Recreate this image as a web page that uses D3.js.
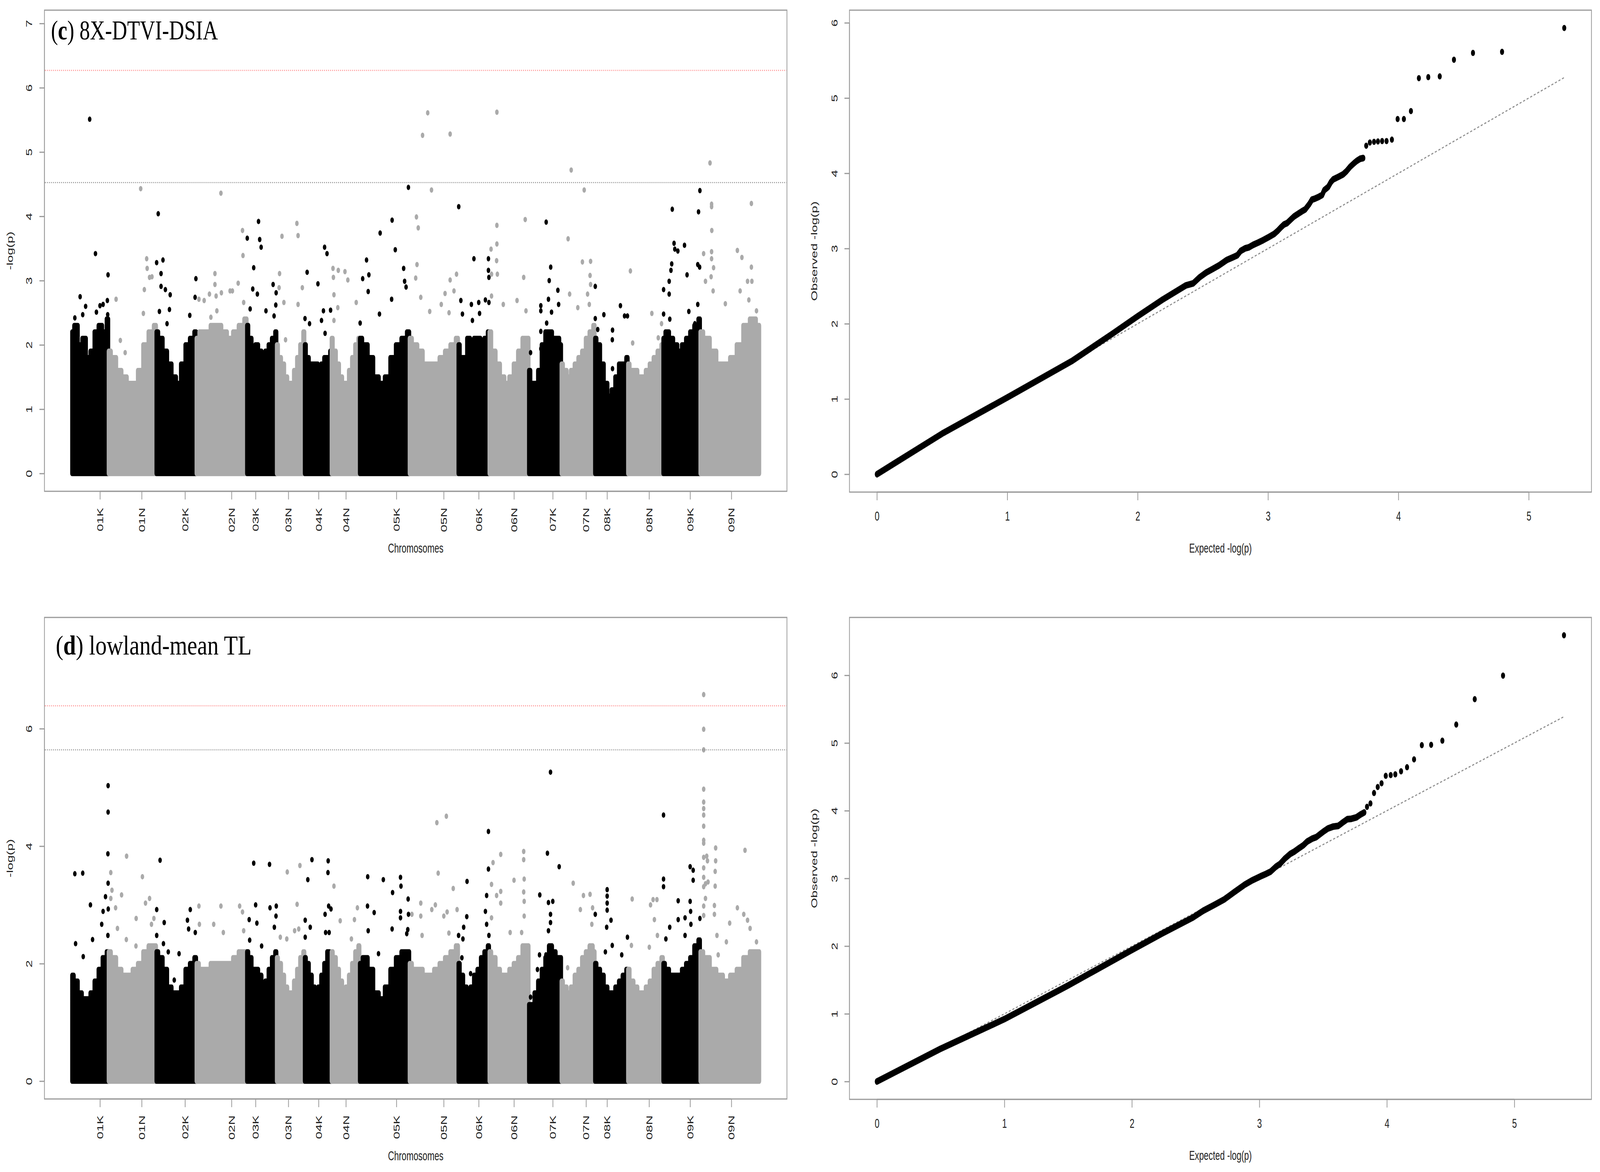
<!DOCTYPE html>
<html>
<head>
<meta charset="utf-8">
<script src="https://cdn.jsdelivr.net/npm/d3@7"></script>
<style>
  html, body { margin: 0; padding: 0; width: 100%; height: 100%; background: #fff; overflow: hidden; }
  #chart { width: 100vw; height: 100vh; }
  #chart svg { display: block; width: 100vw; height: 100vh; }
</style>
</head>
<body>
<div id="chart"></div>
<script>
// ---- chromosomes (positions in a common genome unit, 0..1000) ----
const chromNames = ["01K","01N","02K","02N","03K","03N","04K","04N","05K","05N","06K","06N","07K","07N","08K","08N","09K","09N"];
const chromStart = [0, 53.1, 122.6, 180.9, 254.4, 297.7, 338.4, 377.4, 418.5, 490.9, 561.9, 607.0, 664.5, 711.8, 760.6, 808.6, 859.9, 913.8];
const chromEnd   = [53.1, 122.6, 180.9, 254.4, 297.7, 338.4, 377.4, 418.5, 490.9, 561.9, 607.0, 664.5, 711.8, 760.6, 808.6, 859.9, 913.8, 1000];
const chromTicks = [40.8, 101.5, 164.5, 232.2, 267.1, 314.8, 358.8, 398.5, 472.0, 540.8, 591.7, 643.0, 699.4, 747.8, 778.4, 839.5, 899.2, 959.2];

// top of the dense SNP cloud, sampled evenly along each chromosome
const envC = [
  [2.2, 2.3, 2.0, 2.1, 1.8, 1.9, 2.2, 2.3, 2.2, 2.4],
  [1.9, 1.8, 1.6, 1.5, 1.4, 1.4, 1.6, 2.0, 2.2, 2.3],
  [2.2, 2.1, 1.9, 1.7, 1.5, 1.4, 1.7, 2.0, 2.1, 2.2],
  [2.1, 2.2, 2.2, 2.3, 2.3, 2.2, 2.1, 2.2, 2.3, 2.4],
  [2.3, 2.1, 1.9, 2.0, 1.9, 1.8, 1.9, 2.0, 2.1, 2.2],
  [2.0, 1.8, 1.7, 1.5, 1.4, 1.4, 1.6, 1.8, 2.0, 2.2],
  [2.0, 1.8, 1.7, 1.7, 1.7, 1.6, 1.7, 1.8, 1.8, 1.9],
  [2.1, 1.9, 1.7, 1.5, 1.4, 1.4, 1.6, 1.8, 2.0, 2.1],
  [2.1, 2.0, 1.8, 1.5, 1.4, 1.5, 1.8, 2.0, 2.1, 2.2],
  [2.1, 2.0, 1.9, 1.7, 1.7, 1.7, 1.8, 1.9, 2.0, 2.1],
  [2.0, 1.8, 1.8, 2.1, 2.0, 2.1, 2.1, 2.0, 2.1, 2.2],
  [2.2, 1.9, 1.7, 1.5, 1.4, 1.5, 1.7, 1.9, 2.1, 2.1],
  [1.6, 1.4, 1.4, 1.6, 2.0, 2.2, 2.2, 2.1, 2.1, 2.0],
  [1.7, 1.6, 1.5, 1.6, 1.7, 1.8, 1.9, 2.1, 2.2, 2.3],
  [2.1, 2.0, 1.7, 1.4, 1.2, 1.3, 1.5, 1.7, 1.7, 1.8],
  [1.7, 1.6, 1.6, 1.5, 1.5, 1.6, 1.7, 1.8, 1.9, 2.0],
  [2.1, 2.2, 2.1, 2.0, 1.9, 2.0, 2.1, 2.2, 2.3, 2.4],
  [2.2, 2.1, 1.9, 1.7, 1.7, 1.8, 2.0, 2.3, 2.4, 2.3]
];
const envD = [
  [1.8, 1.7, 1.5, 1.4, 1.4, 1.5, 1.7, 1.9, 2.1, 2.2],
  [2.2, 2.1, 1.9, 1.8, 1.8, 1.9, 2.0, 2.2, 2.3, 2.3],
  [2.2, 2.1, 1.9, 1.6, 1.5, 1.5, 1.6, 1.9, 2.0, 2.1],
  [2.0, 1.9, 1.9, 2.0, 2.0, 2.0, 2.0, 2.1, 2.2, 2.2],
  [2.2, 2.1, 1.9, 1.9, 1.8, 1.6, 1.7, 1.9, 2.1, 2.2],
  [2.1, 2.0, 1.8, 1.6, 1.5, 1.5, 1.7, 1.9, 2.1, 2.2],
  [2.1, 2.0, 1.8, 1.6, 1.5, 1.6, 1.8, 2.0, 2.2, 2.1],
  [2.2, 2.1, 1.9, 1.7, 1.5, 1.6, 1.8, 2.0, 2.2, 2.3],
  [2.0, 2.1, 1.9, 1.5, 1.4, 1.6, 1.9, 2.1, 2.2, 2.2],
  [2.0, 1.9, 1.9, 1.8, 1.8, 1.9, 2.0, 2.1, 2.2, 2.3],
  [2.0, 1.8, 1.6, 1.5, 1.6, 1.8, 1.9, 2.1, 2.2, 2.3],
  [2.2, 2.1, 1.9, 1.8, 1.8, 1.9, 2.0, 2.1, 2.3, 2.3],
  [1.3, 1.3, 1.5, 1.7, 1.9, 2.1, 2.3, 2.2, 2.1, 2.1],
  [1.7, 1.6, 1.5, 1.6, 1.8, 1.9, 2.1, 2.2, 2.3, 2.2],
  [2.0, 1.9, 1.8, 1.6, 1.5, 1.5, 1.6, 1.7, 1.8, 1.9],
  [1.9, 1.7, 1.6, 1.5, 1.5, 1.6, 1.7, 1.9, 2.0, 2.1],
  [2.0, 1.9, 1.8, 1.8, 1.8, 1.9, 2.0, 2.1, 2.3, 2.4],
  [2.2, 2.1, 1.9, 1.8, 1.7, 1.8, 1.9, 2.1, 2.2, 2.2]
];

// single SNPs standing above the cloud: [position, -log(p)]
const dotsC = [
  [4.2,2.42],[11.9,2.75],[15.7,2.47],[19.9,2.6],[25.8,5.51],[34.2,3.42],[35.6,2.51],[40.8,2.61],[45.3,2.63],[51.5,2.69],[52.5,3.09],[52.0,2.47],
  [64.2,2.71],[70.4,2.07],[77.4,1.88],[100.0,4.43],[108.7,3.34],[109.4,3.19],[112.9,3.05],[116.4,3.06],[105.3,2.86],[103.9,2.49],
  [123.2,3.28],[125.5,4.04],[129.6,3.11],[132.4,3.32],[129.6,2.91],[135.9,2.86],[142.9,2.78],[141.8,2.55],[127.2,2.52],[138.3,2.33],[171.4,2.46],[179.1,2.74],[180.3,3.03],
  [184.7,2.71],[192.3,2.69],[200.0,2.79],[208.0,3.11],[208.0,2.94],[209.7,2.76],[216.7,4.36],[217.4,2.81],[230.0,2.84],[233.4,2.84],[241.8,2.96],[248.1,3.78],[248.8,3.39],[249.8,2.66],[210.8,2.53],[202.1,2.43],
  [255.0,3.66],[259.2,2.56],[263.0,2.87],[264.4,3.2],[269.7,2.79],[271.4,3.92],[273.1,3.64],[275.2,3.52],[282.2,2.53],[292.6,2.94],[297.0,2.81],[296.5,2.62],[294.0,2.45],
  [302.0,3.11],[301.3,2.89],[305.5,3.69],[308.3,2.66],[327.2,3.89],[328.9,3.7],[328.9,2.63],[335.1,2.89],[310.7,2.08],
  [342.1,3.13],[339.0,2.41],[345.6,2.33],[357.8,2.95],[365.8,2.53],[367.5,3.52],[371.0,3.42],[363.0,2.38],[368.2,2.18],[376.2,2.54],
  [379.7,3.19],[380.3,3.05],[381.1,2.78],[387.4,3.16],[397.1,3.14],[401.3,3.01],[381.1,2.38],[413.5,2.66],[386.7,2.58],
  [428.5,3.32],[422.9,3.03],[431.9,3.09],[430.9,2.83],[419.2,2.34],[448.3,3.74],[465.7,3.94],[470.3,3.48],[447.3,2.48],[465.0,2.71],[482.5,3.19],[483.9,2.99],[489.4,4.45],[486.0,2.9],
  [510.0,5.26],[517.5,5.61],[550.1,5.28],[523.0,4.41],[501.1,3.99],[503.7,3.82],[501.9,3.25],[500.0,3.04],[507.4,2.74],[520.4,2.52],[537.2,2.63],[542.7,2.8],[550.1,3.01],[555.7,2.84],[559.4,3.1],[548.5,2.5],
  [562.6,4.15],[565.7,2.69],[568.0,2.48],[584.7,3.34],[581.0,2.63],[591.7,2.66],[582.5,2.38],[592.9,2.49],[601.4,2.7],[605.8,3.34],[605.8,3.16],[606.5,3.05],[606.5,2.66],
  [618.1,5.62],[618.1,3.86],[618.1,3.57],[617.7,3.31],[609.6,3.49],[610.3,3.1],[618.8,3.1],[610.3,2.76],[627.4,2.63],[647.4,2.69],[657.1,3.05],[659.3,3.95],[660.4,2.53],
  [667.1,1.88],[670.4,1.12],[682.0,2.61],[682.0,2.53],[682.0,2.21],[682.0,1.94],[689.8,3.91],[696.4,3.21],[694.2,3.0],[693.1,2.71],[697.6,2.51],[706.8,2.85],[707.9,2.63],[690.5,2.34],
  [726.2,4.72],[745.1,4.41],[721.7,3.65],[723.9,2.79],[735.8,2.58],[742.5,3.29],[754.4,3.30],[753.6,3.08],[754.4,2.94],[752.5,2.63],[750.0,2.79],
  [761.2,2.91],[761.2,2.41],[773.7,2.47],[764.8,2.24],[786.3,2.23],[786.0,2.08],[797.8,2.61],[803.8,2.45],[808.0,2.45],[786.3,1.63],[786.3,0.98],
  [812.3,3.15],[843.5,2.49],[815.6,2.03],[852.8,2.11],[857.6,2.33],
  [860.6,2.86],[860.6,2.48],[868.7,2.79],[868.7,2.99],[871.3,3.16],[872.4,3.26],[873.2,4.11],[875.8,3.58],[876.9,3.49],[881.3,3.46],[891.0,3.55],[894.7,3.09],[897.3,2.52],[910.3,2.63],[910.3,3.25],[913.0,3.21],[911.4,4.07],[913.4,4.40],[869.6,2.4],[906.0,2.33],
  [928.1,4.83],[930.4,4.19],[930.4,4.15],[930.7,3.78],[930.4,3.45],[930.4,3.34],[933.3,3.2],[929.7,3.06],[921.5,2.99],[918.8,3.42],[932.6,2.84],[950.4,2.64],[967.9,3.47],[974.5,3.36],[988.3,4.2],[988.3,3.21],[982.7,2.99],[989.0,2.99],[971.9,2.84],[984.6,2.7],[995.7,2.53]
];
const dotsD = [
  [4.2,3.53],[15.7,3.54],[26.9,3.0],[30.0,2.41],[5.3,2.34],[16.4,2.12],[45.3,2.89],[43.3,2.67],[48.8,3.14],[52.6,3.37],[52.6,5.03],[52.6,4.58],[52.3,3.87],[52.8,2.93],[52.3,2.48],
  [56.5,3.55],[58.2,3.25],[56.5,3.11],[72.2,3.17],[63.5,2.95],[66.2,2.6],[79.5,3.83],[93.4,2.77],[102.5,3.48],[107.0,3.03],[112.9,3.11],[115.7,2.67],[119.2,2.77],[79.1,2.41],[93.1,2.3],
  [123.3,2.92],[128.2,3.76],[134.2,2.7],[123.3,2.48],[133.1,2.34],[140.1,2.2],[148.8,1.72],[155.8,2.17],[168.0,2.74],[169.7,2.59],[172.1,2.92],[179.4,2.53],
  [184.7,2.98],[185.4,2.67],[216.7,2.98],[243.9,2.98],[248.1,2.88],[206.2,2.67],[220.2,2.53],[249.8,2.56],
  [264.4,3.71],[287.4,3.69],[267.2,3.0],[257.8,2.75],[269.0,2.69],[288.1,2.95],[297.2,2.98],[296.8,2.81],[294.4,2.62],[275.9,2.3],[258.5,2.4],
  [313.2,3.56],[331.6,3.67],[327.5,3.01],[323.9,2.56],[329.9,2.59],[312.5,2.42],[303.1,2.45],
  [349.1,3.77],[343.1,3.43],[372.7,3.75],[372.4,3.55],[339.3,2.74],[346.6,2.62],[339.3,2.45],[368.2,2.84],[373.4,2.98],[376.8,2.93],[374.1,2.53],[369.0,2.53],
  [381.1,3.32],[390.2,2.73],[415.2,2.95],[410.9,2.75],[406.5,2.42],
  [430.2,3.48],[452.9,3.43],[477.9,3.47],[478.6,3.32],[466.4,3.21],[429.9,2.98],[439.6,2.87],[489.0,3.1],[477.9,2.89],[477.9,2.78],[430.9,2.56],[465.7,2.59],[445.9,2.17],[489.5,2.84],[488.5,2.58],[487.0,2.51],
  [530.8,4.40],[544.6,4.51],[532.7,3.54],[554.6,3.28],[560.2,2.92],[507.4,3.03],[507.4,2.81],[523.4,2.92],[528.6,3.0],[540.9,2.81],[545.7,2.88],[494.5,2.84],[548.3,2.52],[509.3,2.48],
  [574.7,3.40],[605.8,4.25],[605.8,3.61],[603.2,3.16],[601.4,2.89],[603.2,2.67],[606.5,2.48],[574.3,2.8],[569.8,2.62],[568.7,2.42],[562.4,2.48],[567.2,2.1],[579.9,1.83],
  [623.7,3.86],[612.5,3.72],[610.3,3.35],[623.7,3.23],[623.7,3.03],[617.7,3.16],[643.0,3.42],[657.1,3.91],[657.1,3.77],[657.8,3.44],[657.1,3.22],[657.8,3.06],[657.8,2.81],[654.1,2.53],[610.3,2.78],[637.4,2.53],
  [696.1,5.26],[691.6,3.88],[708.7,3.65],[680.5,3.17],[693.1,3.04],[699.4,3.06],[696.1,2.84],[696.1,2.7],[693.1,2.56],[680.1,2.15],[689.4,2.15],[667.1,1.43],[677.1,1.9],
  [729.1,3.37],[744.0,3.16],[753.6,3.18],[739.5,2.92],[757.3,2.95],[756.2,2.67],[721.0,1.93],
  [778.5,3.26],[778.5,3.15],[778.5,3.03],[778.5,2.91],[784.1,2.74],[777.8,2.62],[761.2,2.84],[808.0,2.45],[799.7,2.15],[785.9,2.31],[775.9,2.2],
  [814.9,3.1],[850.9,3.09],[845.3,3.09],[841.6,3.0],[847.2,2.75],[851.6,2.48],[839.8,2.28],[813.8,2.31],
  [860.5,4.53],[860.5,3.44],[860.5,3.31],[881.8,3.07],[881.8,2.75],[869.5,2.62],[899.2,3.65],[903.6,3.59],[903.6,3.42],[899.2,3.06],[899.9,2.89],[891.8,2.78],[913.4,2.77],[900.3,2.67],[863.9,2.42],[891.8,2.48],
  [918.9,6.58],[918.9,5.99],[918.9,5.64],[918.9,4.97],[918.9,4.75],[918.9,4.64],[918.9,4.53],[918.9,4.34],[918.9,4.1],[918.9,4.05],[918.9,3.81],[918.9,3.63],[918.9,3.47],[918.9,3.31],[918.9,2.98],[918.9,2.82],
  [936.3,3.97],[936.3,3.75],[935.6,3.57],[935.6,3.32],[923.3,3.83],[924.4,3.75],[921.5,3.36],[925.2,3.39],[934.5,2.99],[934.5,2.84],[921.5,3.11],[979.0,3.93],[967.9,2.95],[956.7,2.69],[977.2,2.84],[982.7,2.74],[986.4,2.6],[995.7,2.37],[938.2,2.48],[951.9,2.37],[940.0,2.15]
];

const threshC = [6.27, 4.525];   // red, grey
const threshD = [6.39, 5.64];
const ylimC = [0, 6.93];
const ylimD = [0, 7.59];
const yTicksC = [0, 1, 2, 3, 4, 5, 6, 7];
const yTicksD = [0, 2, 4, 6];

// ---- QQ plots: [expected, observed] ----
const qqCLine = [[0,0],[0.5,0.54],[1.0,1.02],[1.5,1.51],[1.8,1.86],[2.0,2.1],[2.19,2.32],[2.37,2.51],[2.425,2.536],[2.475,2.617],[2.525,2.68],[2.575,2.728],[2.624,2.776],[2.684,2.848],[2.734,2.886],[2.764,2.91],[2.79,2.968],[2.824,3.002],[2.853,3.016],[2.887,3.05],[2.923,3.078],[2.963,3.112],[3.003,3.15],[3.047,3.194],[3.072,3.232],[3.098,3.28],[3.122,3.319],[3.146,3.338],[3.178,3.391],[3.198,3.424],[3.232,3.463],[3.261,3.496],[3.285,3.52],[3.317,3.592],[3.337,3.65],[3.361,3.664],[3.391,3.688],[3.415,3.712],[3.431,3.775],[3.461,3.818],[3.481,3.88],[3.5,3.919],[3.54,3.953],[3.576,3.986],[3.6,4.025],[3.63,4.087],[3.66,4.135],[3.68,4.164],[3.706,4.193],[3.73,4.202]];
const qqCTail = [[3.753,4.366],[3.781,4.409],[3.813,4.418],[3.843,4.423],[3.875,4.428],[3.909,4.428],[3.95,4.447],[3.994,4.721],[4.042,4.721],[4.096,4.827],[4.157,5.264],[4.229,5.278],[4.317,5.288],[4.426,5.509],[4.572,5.6],[4.795,5.614],[5.272,5.931]];
const qqDLine = [[0,0],[0.495,0.48],[1.0,0.922],[1.5,1.419],[2.0,1.943],[2.24,2.19],[2.479,2.423],[2.56,2.523],[2.642,2.605],[2.723,2.688],[2.804,2.799],[2.886,2.909],[2.947,2.975],[3.008,3.03],[3.049,3.064],[3.089,3.102],[3.13,3.174],[3.161,3.213],[3.201,3.295],[3.242,3.362],[3.273,3.395],[3.309,3.444],[3.344,3.489],[3.374,3.544],[3.415,3.588],[3.446,3.61],[3.476,3.654],[3.507,3.698],[3.537,3.737],[3.578,3.765],[3.619,3.776],[3.649,3.82],[3.69,3.875],[3.72,3.88],[3.761,3.902],[3.791,3.941],[3.822,3.974]];
const qqDTail = [[3.844,4.057],[3.871,4.107],[3.899,4.261],[3.928,4.35],[3.958,4.405],[3.991,4.515],[4.03,4.526],[4.066,4.537],[4.111,4.582],[4.158,4.642],[4.213,4.758],[4.274,4.968],[4.347,4.973],[4.435,5.034],[4.544,5.272],[4.689,5.647],[4.911,5.995],[5.389,6.591]];
const qqTicks = [0, 1, 2, 3, 4, 5];
const qqYTicks = [0, 1, 2, 3, 4, 5, 6];

// ---- drawing ----
const AXIS = "#9a9a9a";
const TEXT = "#222";
const SANS = "'Liberation Sans', Arial, sans-serif";
const DOT_R = 7;

// the figure is laid out on a 6372 x 3001 board and stretched to fill the window
const svg = d3.select("#chart").append("svg")
    .attr("viewBox", "0 0 6372 3001")
    .attr("preserveAspectRatio", "none")
    .style("background", "#fff");

// R pads axis limits by 4% on each side
function rPad(lim) {
    const p = (lim[1] - lim[0]) * 0.04;
    return [lim[0] - p, lim[1] + p];
}

function frame(box) {
    svg.append("rect")
        .attr("x", box.left).attr("y", box.top)
        .attr("width", box.right - box.left).attr("height", box.bottom - box.top)
        .attr("fill", "none").attr("stroke", AXIS).attr("stroke-width", 3);
}

function leftAxis(box, y, ticks, labelOffset) {
    const ax = svg.append("g")
        .attr("transform", `translate(${box.left},0)`)
        .call(d3.axisLeft(y).tickValues(ticks).tickSize(20).tickFormat(d3.format("d")));
    ax.select(".domain").remove();
    ax.append("line")
        .attr("y1", y(ticks[0])).attr("y2", y(ticks[ticks.length - 1]))
        .attr("stroke", AXIS).attr("stroke-width", 3);
    ax.selectAll(".tick line").attr("stroke", AXIS).attr("stroke-width", 3);
    ax.selectAll(".tick text")
        .attr("x", 0).attr("y", -labelOffset).attr("dy", null)
        .attr("transform", "rotate(-90)")
        .attr("text-anchor", "middle")
        .attr("dominant-baseline", "central")
        .attr("fill", TEXT)
        .style("font-family", SANS).style("font-size", "34px");
}

function bottomAxis(box, x, ticks, fmt, rotated) {
    const ax = svg.append("g")
        .attr("transform", `translate(0,${box.bottom})`)
        .call(d3.axisBottom(x).tickValues(ticks).tickSize(21).tickFormat(fmt));
    ax.select(".domain").remove();
    ax.append("line")
        .attr("x1", x(ticks[0])).attr("x2", x(ticks[ticks.length - 1]))
        .attr("stroke", AXIS).attr("stroke-width", 3);
    ax.selectAll(".tick line").attr("stroke", AXIS).attr("stroke-width", 3);
    const t = ax.selectAll(".tick text")
        .attr("fill", TEXT)
        .style("font-family", SANS).style("font-size", "34px");
    if (rotated) {
        t.attr("x", -42).attr("y", 0).attr("dy", null)
            .attr("transform", "rotate(-90)")
            .attr("text-anchor", "end")
            .attr("dominant-baseline", "central");
    } else {
        t.attr("y", 61).attr("dy", null).attr("dominant-baseline", "central");
    }
}

function axisTitle(text, cx, cy, rotate) {
    svg.append("text")
        .attr("transform", `translate(${cx},${cy})` + (rotate ? " rotate(-90)" : ""))
        .attr("text-anchor", "middle")
        .attr("dominant-baseline", "central")
        .attr("fill", TEXT)
        .style("font-family", SANS).style("font-size", "34px")
        .text(text);
}

function chromColor(i) { return i % 2 === 0 ? "#000000" : "#aaaaaa"; }
function chromOf(pos) {
    const i = chromEnd.findIndex(e => pos < e);
    return i < 0 ? chromEnd.length - 1 : i;
}

function drawManhattan(cfg) {
    const box = cfg.box;
    const x = d3.scaleLinear().domain(rPad([0, 1000])).range([box.left, box.right]);
    const y = d3.scaleLinear().domain(rPad(cfg.ylim)).range([box.bottom, box.top]);

    frame(box);

    const g = svg.append("g");
    // stepped top: the cloud is made of stacked dots, so its edge is ragged, not smooth
    const area = d3.area()
        .curve(d3.curveStep)
        .x(d => x(d[0]))
        .y0(y(0))
        .y1(d => y(d[1]));

    chromNames.forEach((name, i) => {
        const s = chromStart[i], e = chromEnd[i], env = cfg.env[i];
        const pts = env.map((v, k) => [s + (e - s) * k / (env.length - 1), v]);
        g.append("path")
            .datum(pts)
            .attr("d", area)
            .attr("fill", chromColor(i))
            .attr("stroke", chromColor(i))
            .attr("stroke-width", DOT_R * 2)
            .attr("stroke-linejoin", "round");
    });

    g.selectAll("circle.snp")
        .data(cfg.dots)
        .enter().append("circle")
        .attr("class", "snp")
        .attr("cx", d => x(d[0]))
        .attr("cy", d => y(d[1]))
        .attr("r", DOT_R)
        .attr("fill", d => chromColor(chromOf(d[0])));

    // significance lines
    [["#ff8a8a", cfg.thresh[0]], ["#8c8c8c", cfg.thresh[1]]].forEach(([col, v]) => {
        svg.append("line")
            .attr("x1", box.left + 2).attr("x2", box.right - 2)
            .attr("y1", y(v)).attr("y2", y(v))
            .attr("stroke", col).attr("stroke-width", 3)
            .attr("stroke-dasharray", "3,5");
    });

    leftAxis(box, y, cfg.yTicks, 62);
    bottomAxis(box, x, chromTicks, (d, i) => chromNames[i], true);
    axisTitle("-log(p)", box.left - 137, (box.top + box.bottom) / 2, true);
    axisTitle("Chromosomes", (box.left + box.right) / 2, box.bottom + 145, false);

    const title = svg.append("text")
        .attr("x", cfg.titleX).attr("y", cfg.titleY)
        .attr("fill", "#000")
        .attr("textLength", cfg.titleW)
        .attr("lengthAdjust", "spacingAndGlyphs")
        .style("font-family", "'Liberation Serif', 'Times New Roman', serif")
        .style("font-size", "70px");
    title.append("tspan").text("(");
    title.append("tspan").attr("font-weight", "bold").text(cfg.letter);
    title.append("tspan").text(") " + cfg.title);
}

function drawQQ(cfg) {
    const box = cfg.box;
    const x = d3.scaleLinear().domain(rPad([0, cfg.maxExp])).range([box.left, box.right]);
    const y = d3.scaleLinear().domain(rPad([0, cfg.maxObs])).range([box.bottom, box.top]);

    frame(box);

    svg.append("line")
        .attr("x1", x(0)).attr("y1", y(0))
        .attr("x2", x(cfg.maxExp)).attr("y2", y(cfg.maxExp))
        .attr("stroke", "#8c8c8c").attr("stroke-width", 3)
        .attr("stroke-dasharray", "8,7");

    const line = d3.line().x(d => x(d[0])).y(d => y(d[1]));
    svg.append("path")
        .datum(cfg.line)
        .attr("d", line)
        .attr("fill", "none")
        .attr("stroke", "#000")
        .attr("stroke-width", 17)
        .attr("stroke-linecap", "round")
        .attr("stroke-linejoin", "round");

    svg.append("g").selectAll("circle")
        .data(cfg.line.concat(cfg.tail))
        .enter().append("circle")
        .attr("cx", d => x(d[0]))
        .attr("cy", d => y(d[1]))
        .attr("r", 8)
        .attr("fill", "#000");

    leftAxis(box, y, qqYTicks, 60);
    bottomAxis(box, x, qqTicks, d3.format("d"), false);
    axisTitle("Observed -log(p)", box.left - 141, (box.top + box.bottom) / 2, true);
    axisTitle("Expected -log(p)", (box.left + box.right) / 2, box.bottom + 143, false);
}

drawManhattan({
    box: {left: 177, right: 3134, top: 26, bottom: 1258},
    ylim: ylimC, yTicks: yTicksC, env: envC, dots: dotsC, thresh: threshC,
    letter: "c", title: "8X-DTVI-DSIA", titleX: 203, titleY: 101, titleW: 665
});
drawManhattan({
    box: {left: 177, right: 3134, top: 1581, bottom: 2814},
    ylim: ylimD, yTicks: yTicksD, env: envD, dots: dotsD, thresh: threshD,
    letter: "d", title: "lowland-mean TL", titleX: 222, titleY: 1676, titleW: 780
});
drawQQ({
    box: {left: 3383, right: 6338, top: 26, bottom: 1260},
    maxExp: 5.27, maxObs: 5.931, line: qqCLine, tail: qqCTail
});
drawQQ({
    box: {left: 3383, right: 6338, top: 1581, bottom: 2815},
    maxExp: 5.389, maxObs: 6.591, line: qqDLine, tail: qqDTail
});
</script>
</body>
</html>
